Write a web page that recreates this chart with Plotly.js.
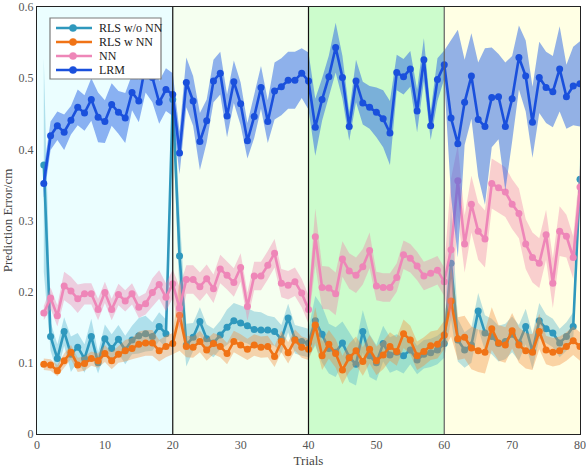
<!DOCTYPE html>
<html>
<head>
<meta charset="utf-8">
<script src="https://cdn.plot.ly/plotly-3.0.1.min.js"></script>
<style>html,body{margin:0;padding:0;background:#fff;}#chart{width:586px;height:468px;}</style>
</head>
<body>
<div id="chart"></div>
<script>
// Trials 1..80
const trials = Array.from({length: 80}, (_, i) => i + 1);

const seriesNames = ["RLS w/o NN", "RLS w NN", "NN", "LRM"];

const rlsWithoutNN = [
  0.378,0.137,0.106,0.144,0.112,0.122,0.106,0.137,0.100,0.134,0.120,0.133,0.118,0.132,0.138,0.141,0.137,0.151,0.141,0.470,
  0.250,0.125,0.136,0.158,0.134,0.128,0.139,0.150,0.159,0.156,0.152,0.147,0.146,0.146,0.144,0.133,0.163,0.133,0.130,0.128,
  0.159,0.140,0.120,0.115,0.128,0.108,0.098,0.144,0.110,0.100,0.127,0.111,0.115,0.110,0.118,0.104,0.112,0.114,0.118,0.127,
  0.240,0.132,0.118,0.125,0.173,0.142,0.137,0.127,0.130,0.140,0.128,0.151,0.116,0.159,0.148,0.142,0.128,0.137,0.151,0.358
];
const rlsWithoutNNStd = [
  0.15,0.02,0.02,0.02,0.025,0.02,0.02,0.025,0.015,0.02,0.02,0.02,0.02,0.02,0.025,0.025,0.02,0.02,0.02,0.03,
  0.06,0.03,0.02,0.02,0.02,0.02,0.02,0.025,0.025,0.025,0.025,0.025,0.025,0.02,0.02,0.02,0.02,0.02,0.02,0.02,
  0.035,0.04,0.035,0.035,0.03,0.035,0.03,0.03,0.03,0.025,0.025,0.025,0.025,0.025,0.02,0.02,0.02,0.02,0.02,0.02,
  0.08,0.03,0.025,0.025,0.025,0.025,0.025,0.025,0.025,0.025,0.025,0.025,0.025,0.025,0.02,0.02,0.02,0.02,0.02,0.03
];

const rlsWithNN = [
  0.098,0.097,0.089,0.103,0.115,0.097,0.099,0.106,0.103,0.113,0.103,0.112,0.117,0.120,0.126,0.128,0.128,0.117,0.123,0.127,
  0.167,0.123,0.122,0.130,0.118,0.127,0.123,0.113,0.130,0.125,0.119,0.125,0.122,0.123,0.109,0.130,0.114,0.132,0.122,0.119,
  0.153,0.110,0.126,0.113,0.090,0.107,0.117,0.102,0.119,0.103,0.111,0.123,0.116,0.141,0.132,0.110,0.116,0.124,0.126,0.139,
  0.187,0.134,0.136,0.121,0.117,0.115,0.148,0.128,0.125,0.145,0.125,0.117,0.115,0.144,0.118,0.115,0.117,0.123,0.131,0.123
];
const rlsWithNNStd = [
  0.008,0.008,0.008,0.01,0.01,0.01,0.01,0.01,0.01,0.012,0.012,0.012,0.015,0.015,0.018,0.018,0.018,0.015,0.015,0.015,
  0.05,0.015,0.015,0.015,0.015,0.015,0.015,0.015,0.015,0.015,0.015,0.015,0.015,0.015,0.015,0.015,0.015,0.015,0.015,0.015,
  0.025,0.02,0.02,0.02,0.02,0.02,0.02,0.02,0.02,0.02,0.02,0.02,0.02,0.02,0.02,0.02,0.02,0.02,0.02,0.02,
  0.05,0.03,0.03,0.03,0.03,0.03,0.03,0.025,0.025,0.025,0.025,0.025,0.025,0.025,0.02,0.02,0.02,0.02,0.02,0.02
];

const nn = [
  0.170,0.191,0.166,0.208,0.201,0.190,0.197,0.197,0.175,0.199,0.175,0.196,0.187,0.197,0.178,0.183,0.199,0.210,0.192,0.211,
  0.177,0.217,0.217,0.207,0.218,0.204,0.232,0.223,0.213,0.234,0.179,0.222,0.222,0.237,0.254,0.212,0.209,0.214,0.198,0.175,
  0.277,0.206,0.205,0.197,0.246,0.229,0.223,0.235,0.258,0.208,0.206,0.206,0.220,0.252,0.247,0.236,0.222,0.226,0.230,0.214,
  0.259,0.356,0.267,0.323,0.285,0.274,0.352,0.346,0.340,0.323,0.310,0.267,0.248,0.240,0.280,0.212,0.285,0.278,0.248,0.347
];
const nnStd = [
  0.01,0.015,0.015,0.02,0.02,0.02,0.015,0.015,0.015,0.015,0.015,0.015,0.015,0.015,0.015,0.015,0.02,0.02,0.02,0.02,
  0.03,0.02,0.02,0.02,0.02,0.02,0.02,0.02,0.02,0.02,0.02,0.02,0.02,0.02,0.02,0.02,0.02,0.02,0.02,0.02,
  0.04,0.03,0.03,0.03,0.025,0.025,0.025,0.025,0.025,0.02,0.02,0.02,0.02,0.02,0.02,0.02,0.02,0.02,0.02,0.02,
  0.1,0.05,0.04,0.04,0.04,0.04,0.035,0.035,0.035,0.035,0.035,0.035,0.035,0.035,0.035,0.035,0.035,0.03,0.03,0.03
];

const lrm = [
  0.352,0.419,0.433,0.424,0.441,0.459,0.451,0.470,0.445,0.439,0.463,0.452,0.444,0.480,0.468,0.520,0.501,0.466,0.484,0.477,
  0.395,0.494,0.468,0.411,0.440,0.496,0.507,0.447,0.495,0.464,0.412,0.446,0.487,0.439,0.482,0.488,0.497,0.497,0.507,0.496,
  0.431,0.470,0.502,0.543,0.501,0.432,0.496,0.465,0.459,0.452,0.443,0.423,0.508,0.502,0.513,0.454,0.526,0.433,0.498,0.519,
  0.444,0.408,0.466,0.503,0.442,0.432,0.473,0.474,0.432,0.471,0.529,0.503,0.438,0.501,0.487,0.481,0.513,0.474,0.489,0.492
];
const lrmStd = [
  0.02,0.02,0.02,0.025,0.02,0.025,0.025,0.03,0.035,0.03,0.03,0.03,0.035,0.025,0.03,0.04,0.035,0.03,0.03,0.03,
  0.03,0.035,0.035,0.04,0.03,0.03,0.03,0.03,0.03,0.03,0.025,0.03,0.03,0.03,0.04,0.04,0.04,0.04,0.035,0.04,
  0.04,0.03,0.03,0.035,0.03,0.02,0.03,0.03,0.03,0.035,0.04,0.045,0.025,0.025,0.025,0.03,0.03,0.02,0.03,0.02,
  0.11,0.16,0.06,0.06,0.08,0.11,0.07,0.06,0.09,0.06,0.045,0.05,0.05,0.05,0.05,0.05,0.06,0.045,0.055,0.06
];

// Phase regions (trial boundaries) and background colours
const phaseStarts = [0, 20, 40, 60];
const phaseEnds = [20, 40, 60, 80];
const phaseColors = ["#ebfeff", "#f5fff0", "#ccfccc", "#ffffe4"];
const phaseDividers = [20, 40, 60];

const xTicks = [0, 10, 20, 30, 40, 50, 60, 70, 80];
const yTicks = [0, 0.1, 0.2, 0.3, 0.4, 0.5, 0.6];

const lineColors = ["#2f98bd", "#f07316", "#ee86b8", "#1a50dc"];
const bandColors = ["rgba(80,175,205,0.38)", "rgba(242,140,60,0.38)", "rgba(238,130,170,0.38)", "rgba(40,100,230,0.5)"];

const allMeans = [rlsWithoutNN, rlsWithNN, nn, lrm];
const allStds = [rlsWithoutNNStd, rlsWithNNStd, nnStd, lrmStd];

const traces = [];
allMeans.forEach((m, k) => {
  const s = allStds[k];
  const upper = m.map((v, i) => v + s[i]);
  const lower = m.map((v, i) => v - s[i]);
  traces.push({
    x: trials.concat(trials.slice().reverse()),
    y: upper.concat(lower.slice().reverse()),
    type: "scatter", mode: "lines", fill: "toself",
    fillcolor: bandColors[k], line: {width: 0, color: bandColors[k]},
    showlegend: false, hoverinfo: "skip"
  });
  traces.push({
    x: trials, y: m, name: seriesNames[k],
    type: "scatter", mode: "lines+markers",
    line: {color: lineColors[k], width: 2.6},
    marker: {color: lineColors[k], size: 7},
    showlegend: false
  });
});

const shapes = [];
phaseStarts.forEach((s, i) => {
  shapes.push({type: "rect", xref: "x", yref: "y", x0: s, x1: phaseEnds[i], y0: 0, y1: 0.6,
    fillcolor: phaseColors[i], line: {width: 0}, layer: "below"});
});
phaseDividers.forEach((d, i) => {
  shapes.push({type: "line", xref: "x", yref: "y", x0: d, x1: d, y0: 0, y1: 0.6,
    line: {color: i === 2 ? "#606060" : "#111111", width: 1.2}, layer: "above"});
});

// Compact legend box (matplotlib style), placed in pixel terms of the plot area
const M = {l: 37, r: 6, t: 7, b: 34};
const W = 586, H = 468;
const pw = W - M.l - M.r, ph = H - M.t - M.b;
const px = v => (v - M.l) / pw;           // page x pixel -> paper
const py = v => (H - M.b - v) / ph;       // page y pixel -> paper
const annotations = [];
const serif = "Liberation Serif, Times New Roman, serif";
shapes.push({type: "rect", xref: "paper", yref: "paper", x0: px(50), x1: px(161), y0: py(79), y1: py(18),
  fillcolor: "#ffffff", line: {color: "#7a7a7a", width: 1.2}, layer: "above"});
seriesNames.forEach((name, k) => {
  const rowY = 28 + k * 14;
  shapes.push({type: "line", xref: "paper", yref: "paper", x0: px(56), x1: px(92), y0: py(rowY), y1: py(rowY),
    line: {color: lineColors[k], width: 2.6}, layer: "above"});
  shapes.push({type: "circle", xref: "paper", yref: "paper", xsizemode: "pixel", ysizemode: "pixel",
    xanchor: px(73), yanchor: py(rowY), x0: -3.6, x1: 3.6, y0: -3.6, y1: 3.6,
    fillcolor: lineColors[k], line: {color: lineColors[k], width: 0.5}, layer: "above"});
  annotations.push({xref: "paper", yref: "paper", x: px(97), y: py(rowY), xanchor: "left", yanchor: "middle",
    text: name, showarrow: false, font: {family: serif, size: 12, color: "#222"}});
});

const layout = {
  width: W, height: H,
  margin: M,
  paper_bgcolor: "#ffffff", plot_bgcolor: "#ffffff",
  font: {family: serif, size: 12, color: "#444"},
  showlegend: false,
  xaxis: {
    range: [0, 80], tickvals: xTicks, ticks: "", showgrid: false, zeroline: false,
    showline: true, linecolor: "#222", linewidth: 1, mirror: true,
    tickfont: {family: serif, size: 12, color: "#555"},
    title: {text: "Trials", font: {family: serif, size: 13, color: "#444"}, standoff: 5}
  },
  yaxis: {
    range: [0, 0.6], tickvals: yTicks, ticktext: yTicks.map(v => String(v)), ticks: "",
    showgrid: false, zeroline: false,
    showline: true, linecolor: "#222", linewidth: 1, mirror: true,
    tickfont: {family: serif, size: 12, color: "#555"},
    title: {text: "Prediction Error/cm", font: {family: serif, size: 13, color: "#444"}, standoff: 6}
  },
  shapes: shapes,
  annotations: annotations
};

Plotly.newPlot("chart", traces, layout, {displayModeBar: false, staticPlot: true});
</script>
</body>
</html>
